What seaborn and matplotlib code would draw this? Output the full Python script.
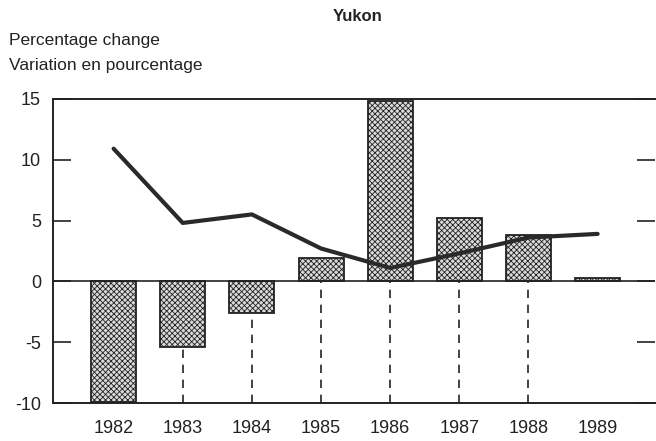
import matplotlib
matplotlib.use("Agg")
import matplotlib.pyplot as plt
import numpy as np
import pandas as pd
import seaborn as sns

# values
years = ["1982", "1983", "1984", "1985", "1986", "1987", "1988", "1989"]
bar_values = [-9.9, -5.4, -2.6, 1.9, 14.8, 5.2, 3.8, 0.25]
line_values = [10.9, 4.8, 5.5, 2.7, 1.1, 2.3, 3.6, 3.9]
dashed = [False, True, True, True, True, True, True, False]
y_ticks = [-10, -5, 0, 5, 10, 15]

df = pd.DataFrame({
    "year": years,
    "pos": np.arange(len(years)),
    "bar": bar_values,
    "line": line_values,
    "dashed": dashed,
})

sns.set_style("white")
plt.rcParams["font.family"] = ["Liberation Sans", "DejaVu Sans"]
plt.rcParams["axes.unicode_minus"] = False
plt.rcParams["hatch.color"] = "#555555"
plt.rcParams["hatch.linewidth"] = 0.6

fig = plt.figure(figsize=(6.56, 4.41), dpi=100)
ax = fig.add_axes([0.0815, 0.086, 0.917, 0.69])

sns.barplot(data=df, x="year", y="bar", color="#dadada", width=0.65,
            edgecolor="#222222", linewidth=1.3, saturation=1, ax=ax)
for patch in ax.patches:
    patch.set_hatch("xxxxxx")

sns.lineplot(data=df, x="pos", y="line", color="#2a2a2a", linewidth=3.0, ax=ax)

dd = df[df["dashed"]]
ax.vlines(dd["pos"], -10, np.minimum(dd["bar"], 0), colors="#222222",
          linestyles=(0, (5, 4)), linewidth=1.2)
ax.axhline(0, color="#222222", linewidth=1.2)

ax.set_ylim(-10, 15)
ax.set_xlim(-0.87, 7.83)
ax.set_yticks(y_ticks)
ax.set_xticks(df["pos"])
ax.set_xticklabels(years)
ax.set_xlabel("")
ax.set_ylabel("")

ax.tick_params(axis="y", which="both", left=True, right=True, direction="in",
               length=13, width=1.2, colors="#222222", labelsize=13, pad=9,
               labelcolor="#222222")
ax.tick_params(axis="x", bottom=False, labelsize=13, pad=9, labelcolor="#222222")

for side in ("left", "top", "bottom"):
    ax.spines[side].set_visible(True)
    ax.spines[side].set_color("#222222")
    ax.spines[side].set_linewidth(1.4)
    ax.spines[side].set_zorder(5)
ax.spines["right"].set_visible(False)

fig.text(0.545, 0.962, "Yukon", ha="center", va="center", fontsize=12,
         fontweight="bold", color="#222222")
fig.text(0.014, 0.908, "Percentage change", ha="left", va="center",
         fontsize=12.5, color="#222222")
fig.text(0.014, 0.851, "Variation en pourcentage", ha="left", va="center",
         fontsize=12.5, color="#222222")

fig.savefig("out.png", dpi=100)
